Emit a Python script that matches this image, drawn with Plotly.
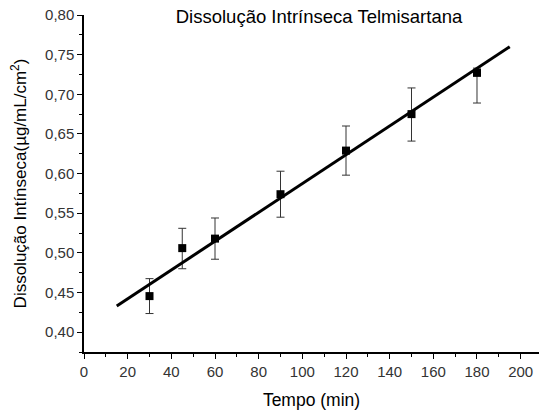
import plotly.graph_objects as go

tempo = [30, 45, 60, 90, 120, 150, 180]
dissol = [0.4455, 0.506, 0.518, 0.574, 0.629, 0.675, 0.727]
err_plus = [0.022, 0.025, 0.026, 0.029, 0.031, 0.033, 0.006]
err_minus = [0.022, 0.026, 0.026, 0.029, 0.031, 0.034, 0.038]
fit_x = [15, 195]
fit_y = [0.433, 0.760]
y_ticks = [0.40, 0.45, 0.50, 0.55, 0.60, 0.65, 0.70, 0.75, 0.80]
y_labels = ["0,40", "0,45", "0,50", "0,55", "0,60", "0,65", "0,70", "0,75", "0,80"]
x_ticks = [0, 20, 40, 60, 80, 100, 120, 140, 160, 180, 200]

font = "Liberation Sans, Arial, sans-serif"

fig = go.Figure()
fig.add_trace(go.Scatter(
    x=tempo, y=dissol, mode="markers",
    marker=dict(symbol="square", size=8, color="black"),
    error_y=dict(type="data", symmetric=False, array=err_plus, arrayminus=err_minus,
                 color="#333333", thickness=1, width=4),
    showlegend=False))
fig.add_trace(go.Scatter(
    x=fit_x, y=fit_y, mode="lines",
    line=dict(color="black", width=3), showlegend=False))

fig.update_layout(
    width=539, height=413,
    margin=dict(l=84, r=0, t=15, b=61),
    paper_bgcolor="white", plot_bgcolor="white",
    font=dict(family=font, color="#222222"),
    title=dict(text="Dissolução Intrínseca Telmisartana", x=319 / 539, xanchor="center",
               y=1 - 17 / 413, yanchor="middle", yref="container",
               font=dict(size=18.5, color="black", family=font)),
)
fig.update_xaxes(
    range=[0, 208.4], tickvals=x_ticks, ticks="outside", ticklen=5, tickwidth=1,
    tickcolor="black", showline=True, linecolor="black", linewidth=1.5,
    showgrid=False, zeroline=False,
    minor=dict(dtick=10, tick0=0, ticks="outside", ticklen=3, tickcolor="black", showgrid=False),
    tickfont=dict(size=15, color="#333333"),
    title=dict(text="Tempo (min)", font=dict(size=17.5, color="black"), standoff=15))
fig.update_yaxes(
    range=[0.375, 0.80], tickvals=y_ticks, ticktext=y_labels, ticks="outside", ticklen=5,
    tickwidth=1, tickcolor="black", showline=True, linecolor="black", linewidth=1.5,
    showgrid=False, zeroline=False,
    minor=dict(dtick=0.025, tick0=0.4, ticks="outside", ticklen=3, tickcolor="black", showgrid=False),
    tickfont=dict(size=15, color="#333333"),
    title=dict(text="Dissolução Intínseca(µg/mL/cm<sup>2</sup>)", font=dict(size=17, color="black"),
               standoff=14))

fig.write_html("out.html")
